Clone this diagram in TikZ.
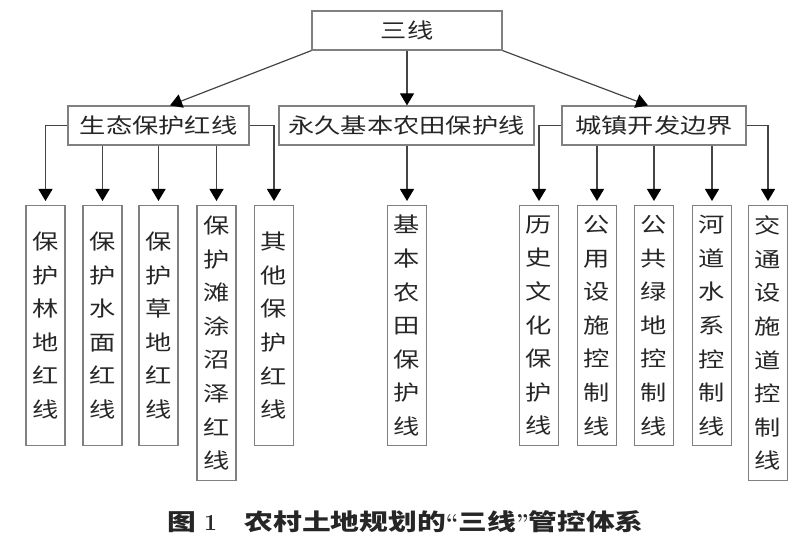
\documentclass[tikz,border=0pt]{standalone}
\usepackage{fontspec}
\usetikzlibrary{arrows.meta}
\newfontfamily\cjk[FakeStretch=1.25]{Noto Sans CJK SC}
\definecolor{boxgray}{HTML}{808080}
\definecolor{linegray}{HTML}{454545}
\definecolor{textgray}{HTML}{262626}
\begin{document}
\begin{tikzpicture}[x=1pt,y=1pt,
    box/.style={draw=boxgray,line width=1.2pt,text=textgray,inner sep=0pt,
        minimum height=39,font=\cjk\fontsize{21}{25}\selectfont},
    vbox/.style={draw=boxgray,line width=1.2pt,text=textgray,inner sep=0pt,
        minimum width=39,anchor=north,align=center,
        font=\cjk\fontsize{21}{33.6}\selectfont},
    arr/.style={draw=linegray,line width=1.2pt,-{Triangle[width=14pt,length=12pt,color=black]}},
    drop/.style={arr,shorten >=4pt}]
                        \useasboundingbox (0,0) rectangle (800,546);

                        \node[box,minimum width=190] (sanxian) at (407,515.5) {三线};
                        \node[box,minimum width=181] (eco) at (158.5,420.5) {生态保护红线};
                        \node[box,minimum width=255] (farm) at (406.5,420.5) {永久基本农田保护线};
                        \node[box,minimum width=184] (town) at (654,420.5) {城镇开发边界};

                        \node[vbox,minimum height=240] (lindi) at (45.5,341) {保\\护\\林\\地\\红\\线};
                        \node[vbox,minimum height=240] (shuimian) at (102.5,341) {保\\护\\水\\面\\红\\线};
                        \node[vbox,minimum height=240] (caodi) at (158.5,341) {保\\护\\草\\地\\红\\线};
                        \node[vbox,minimum height=275] (tantu) at (216.5,341) {保\\护\\滩\\涂\\沼\\泽\\红\\线};
                        \node[vbox,minimum height=240] (qita) at (274,341) {其\\他\\保\\护\\红\\线};
                        \node[vbox,minimum height=240] (jiben) at (407,341) {基\\本\\农\\田\\保\\护\\线};
                        \node[vbox,minimum height=240] (lishi) at (539,341) {历\\史\\文\\化\\保\\护\\线};
                        \node[vbox,minimum height=240] (gongyong) at (597,341) {公\\用\\设\\施\\控\\制\\线};
                        \node[vbox,minimum height=240] (lvdi) at (654,341) {公\\共\\绿\\地\\控\\制\\线};
                        \node[vbox,minimum height=240] (hedao) at (712,341) {河\\道\\水\\系\\控\\制\\线};
                        \node[vbox,minimum height=275] (jiaotong) at (768,341) {交\\通\\设\\施\\道\\控\\制\\线};

                        \draw[arr] (sanxian.south west) -- ([xshift=11.5]eco.north);
                        \draw[arr] (sanxian.south) -- (sanxian.south |- farm.north);
                        \draw[arr] (sanxian.south east) -- ([xshift=-6]town.north);

                        \draw[drop] (eco.west) -| (lindi.north);
                        \draw[drop] (eco.south -| shuimian) -- (shuimian.north);
                        \draw[drop] (eco.south -| caodi) -- (caodi.north);
                        \draw[drop] (eco.south -| tantu) -- (tantu.north);
                        \draw[drop] (eco.east) -| (qita.north);
                        \draw[drop] (farm.south -| jiben) -- (jiben.north);
                        \draw[drop] (town.west) -| (lishi.north);
                        \draw[drop] (town.south -| gongyong) -- (gongyong.north);
                        \draw[drop] (town.south -| lvdi) -- (lvdi.north);
                        \draw[drop] (town.south -| hedao) -- (hedao.north);
                        \draw[drop] (town.east) -| (jiaotong.north);

                        \node[text=textgray,font=\cjk\bfseries\fontsize{23}{28}\selectfont] (caption) at (405.5,24)
                            {图\hspace{0.35em}{\rmfamily\bfseries 1}\hspace{1.2em}农村土地规划的{\rmfamily``}三线{\rmfamily''}管控体系};
                    \end{tikzpicture}
\end{document}
